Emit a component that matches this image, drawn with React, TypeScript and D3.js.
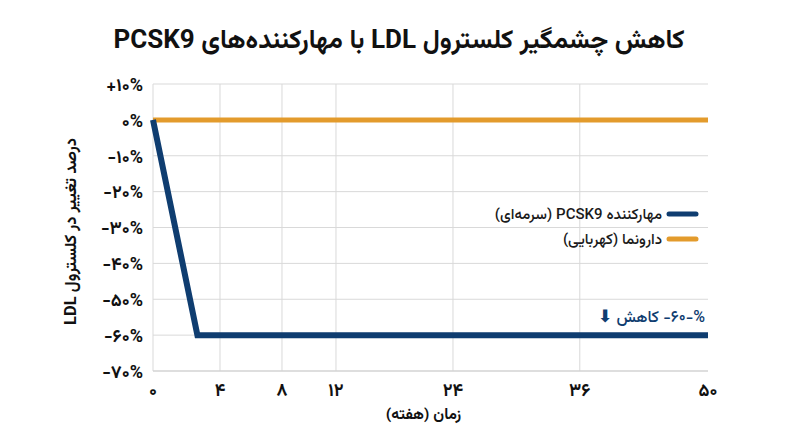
import React from "react";
import * as d3 from "d3";

const title = "کاهش چشمگیر کلسترول LDL با مهارکننده‌های PCSK9";
const yAxisTitle = "درصد تغییر در کلسترول LDL";
const xAxisTitle = "زمان (هفته)";

const yTickValues = [10, 0, -10, -20, -30, -40, -50, -60, -70];
const yTickLabels = ["+۱۰%", "۰%", "-۱۰%", "-۲۰%", "-۳۰%", "-۴۰%", "-۵۰%", "-۶۰%", "-۷۰%"];

const xTickWeeks = [0, 4, 8, 12, 24, 36, 50];
const xTickLabels = ["۰", "۴", "۸", "۱۲", "۲۴", "۳۶", "۵۰"];

const pcsk9Weeks = [0, 4, 50];
const pcsk9Values = [0, -60, -60];
const placeboWeeks = [0, 50];
const placeboValues = [0, 0];

const legendLabels = ["مهارکننده PCSK9 (سرمه‌ای)", "دارونما (کهربایی)"];
const annotationArrow = "⬇";
const annotationText = " کاهش\u200E -۶۰-%";

const W = 800;
const H = 447;
const M = { left: 153, right: 92, top: 84, bottom: 76 };
const NAVY = "#0f3d70";
const AMBER = "#e39b2c";
const GRID = "#d9d9d9";
const FONT = "Vazirmatn, Roboto, 'DejaVu Sans', sans-serif";

// axis tick placement (the reference spaces its week ticks unevenly)
const tickFractions = [0, 0.1207, 0.2324, 0.3297, 0.5405, 0.769, 1];

export default function App() {
  const x0 = M.left;
  const x1 = W - M.right;
  const y0 = M.top;
  const y1 = H - M.bottom;

  const x = d3.scaleLinear().domain([0, 50]).range([x0, x1]);
  const xTick = d3
    .scaleLinear()
    .domain(xTickWeeks)
    .range(tickFractions.map((f) => x0 + f * (x1 - x0)));
  const y = d3.scaleLinear().domain([10, -70]).range([y0, y1]);

  const line = d3
    .line<[number, number]>()
    .x((d) => x(d[0]))
    .y((d) => y(d[1]));

  const pcsk9Data = pcsk9Weeks.map((w, i) => [w, pcsk9Values[i]] as [number, number]);
  const placeboData = placeboWeeks.map((w, i) => [w, placeboValues[i]] as [number, number]);

  const legendX = 662;
  const legendY = [214, 239];
  const legendColors = [NAVY, AMBER];

  const annY = 322;

  return (
    <div style={{ position: "absolute", left: 0, top: 0, width: W, height: H, background: "#fff" }}>
      <svg width={W} height={H} style={{ display: "block", fontFamily: FONT }}>
        <rect width={W} height={H} fill="#fff" />
        <text
          x={W / 2 - 1}
          y={48}
          textAnchor="middle"
          direction="rtl"
          fontSize={26}
          fontWeight={700}
          fill="#111"
        >
          {title}
        </text>

        {/* horizontal grid */}
        {yTickValues.map((v) => (
          <line key={"gy" + v} x1={x0} x2={x1} y1={y(v)} y2={y(v)} stroke={GRID} strokeWidth={1} />
        ))}
        {/* vertical grid */}
        {xTickWeeks.slice(0, -1).map((w) => (
          <line key={"gx" + w} x1={xTick(w)} x2={xTick(w)} y1={y0} y2={y1} stroke={GRID} strokeWidth={1} />
        ))}
        <line x1={x0} x2={x1} y1={y1} y2={y1} stroke="#cfcfcf" strokeWidth={1.2} />

        {/* y tick labels */}
        {yTickValues.map((v, i) => (
          <text
            key={"yl" + v}
            x={x0 - 10}
            y={y(v)}
            dy="0.38em"
            textAnchor="end"
            direction="ltr"
            fontSize={18}
            fontWeight={700}
            fill="#111"
          >
            {yTickLabels[i]}
          </text>
        ))}

        {/* x tick labels */}
        {xTickWeeks.map((w, i) => (
          <text
            key={"xl" + w}
            x={xTick(w)}
            y={y1 + 25}
            textAnchor="middle"
            direction="ltr"
            fontSize={18}
            fontWeight={700}
            fill="#111"
          >
            {xTickLabels[i]}
          </text>
        ))}

        <text
          x={(x0 + x1) / 2 - 7}
          y={y1 + 48}
          textAnchor="middle"
          direction="rtl"
          fontSize={15.5}
          fontWeight={700}
          fill="#111"
        >
          {xAxisTitle}
        </text>

        <text
          transform={`translate(76, ${(y0 + y1) / 2 + 4}) rotate(-90)`}
          textAnchor="middle"
          direction="rtl"
          fontSize={16.5}
          fontWeight={700}
          fill="#111"
        >
          {yAxisTitle}
        </text>

        {/* series */}
        <path d={line(placeboData) || ""} fill="none" stroke={AMBER} strokeWidth={5} />
        <path
          d={line(pcsk9Data) || ""}
          fill="none"
          stroke={NAVY}
          strokeWidth={6}
          strokeLinejoin="miter"
        />

        {/* legend */}
        {legendLabels.map((lab, i) => (
          <g key={"lg" + i}>
            <line
              x1={legendX + 7}
              x2={legendX + 34}
              y1={legendY[i]}
              y2={legendY[i]}
              stroke={legendColors[i]}
              strokeWidth={5}
              strokeLinecap="round"
            />
            <text
              x={legendX}
              y={legendY[i]}
              dy="0.35em"
              textAnchor="start"
              direction="rtl"
              fontSize={15}
              fontWeight={500}
              fill="#1a1a1a"
            >
              {lab}
            </text>
          </g>
        ))}

        {/* annotation */}
        <text x={x1 - 3} y={annY} textAnchor="end" direction="ltr" fill={NAVY} fontWeight={500}>
          <tspan fontSize={17} fontWeight={700}>
            {annotationArrow}
          </tspan>
          <tspan fontSize={16}>{annotationText}</tspan>
        </text>
      </svg>
    </div>
  );
}
